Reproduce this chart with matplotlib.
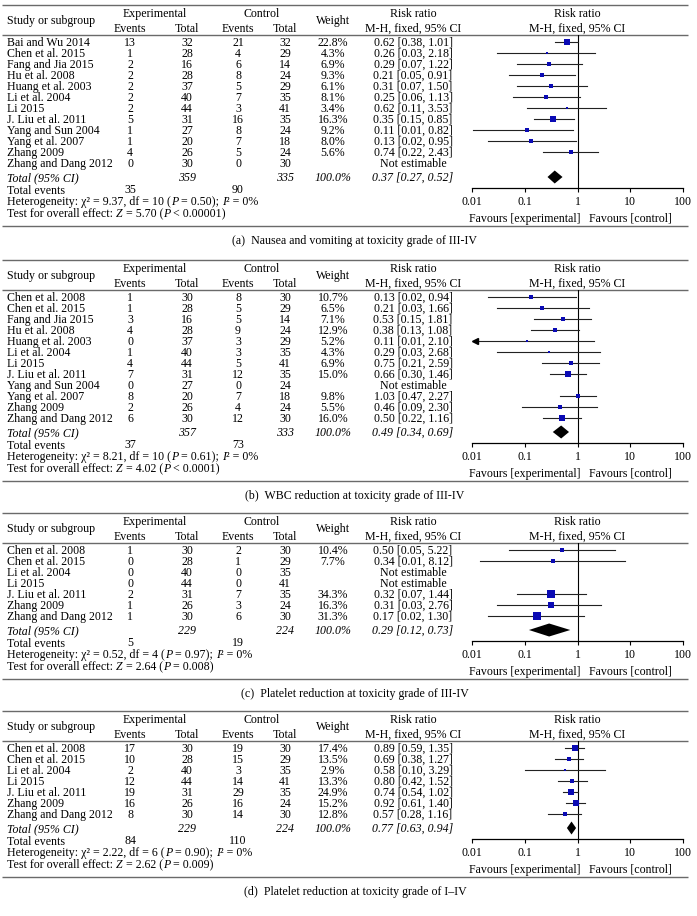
import numpy as np
import matplotlib
matplotlib.use("Agg")
import matplotlib.pyplot as plt

plt.rcParams["font.family"] = ["Liberation Serif", "DejaVu Serif"]

# ------------------------------------------------------------------
# Data
# ------------------------------------------------------------------
# (a) nausea and vomiting, grade III-IV
studies_a = ["Bai and Wu 2014", "Chen et al. 2015", "Fang and Jia 2015", "Hu et al. 2008",
             "Huang et al. 2003", "Li et al. 2004", "Li 2015", "J. Liu et al. 2011",
             "Yang and Sun 2004", "Yang et al. 2007", "Zhang 2009", "Zhang and Dang 2012"]
exp_ev_a = [13, 1, 2, 2, 2, 2, 2, 5, 1, 1, 4, 0]
exp_n_a = [32, 28, 16, 28, 37, 40, 44, 31, 27, 20, 26, 30]
ctl_ev_a = [21, 4, 6, 8, 5, 7, 3, 16, 8, 7, 5, 0]
ctl_n_a = [32, 29, 14, 24, 29, 35, 41, 35, 24, 18, 24, 30]
weight_a = [22.8, 4.3, 6.9, 9.3, 6.1, 8.1, 3.4, 16.3, 9.2, 8.0, 5.6, None]
rr_a = [0.62, 0.26, 0.29, 0.21, 0.31, 0.25, 0.62, 0.35, 0.11, 0.13, 0.74, None]
lo_a = [0.38, 0.03, 0.07, 0.05, 0.07, 0.06, 0.11, 0.15, 0.01, 0.02, 0.22, None]
hi_a = [1.01, 2.18, 1.22, 0.91, 1.50, 1.13, 3.53, 0.85, 0.82, 0.95, 2.43, None]
total_a = (359, 335, 0.37, 0.27, 0.52, 35, 90)
stats_a = ("9.37", "10", "0.50", "0", "5.70", "< 0.00001")

# (b) WBC reduction, grade III-IV
studies_b = ["Chen et al. 2008", "Chen et al. 2015", "Fang and Jia 2015", "Hu et al. 2008",
             "Huang et al. 2003", "Li et al. 2004", "Li 2015", "J. Liu et al. 2011",
             "Yang and Sun 2004", "Yang et al. 2007", "Zhang 2009", "Zhang and Dang 2012"]
exp_ev_b = [1, 1, 3, 4, 0, 1, 4, 7, 0, 8, 2, 6]
exp_n_b = [30, 28, 16, 28, 37, 40, 44, 31, 27, 20, 26, 30]
ctl_ev_b = [8, 5, 5, 9, 3, 3, 5, 12, 0, 7, 4, 12]
ctl_n_b = [30, 29, 14, 24, 29, 35, 41, 35, 24, 18, 24, 30]
weight_b = [10.7, 6.5, 7.1, 12.9, 5.2, 4.3, 6.9, 15.0, None, 9.8, 5.5, 16.0]
rr_b = [0.13, 0.21, 0.53, 0.38, 0.11, 0.29, 0.75, 0.66, None, 1.03, 0.46, 0.50]
lo_b = [0.02, 0.03, 0.15, 0.13, 0.006, 0.03, 0.21, 0.30, None, 0.47, 0.09, 0.22]
hi_b = [0.94, 1.66, 1.81, 1.08, 2.10, 2.68, 2.59, 1.46, None, 2.27, 2.30, 1.16]
total_b = (357, 333, 0.49, 0.34, 0.69, 37, 73)
stats_b = ("8.21", "10", "0.61", "0", "4.02", "< 0.0001")

# (c) platelet reduction, grade III-IV
studies_c = ["Chen et al. 2008", "Chen et al. 2015", "Li et al. 2004", "Li 2015",
             "J. Liu et al. 2011", "Zhang 2009", "Zhang and Dang 2012"]
exp_ev_c = [1, 0, 0, 0, 2, 1, 1]
exp_n_c = [30, 28, 40, 44, 31, 26, 30]
ctl_ev_c = [2, 1, 0, 0, 7, 3, 6]
ctl_n_c = [30, 29, 35, 41, 35, 24, 30]
weight_c = [10.4, 7.7, None, None, 34.3, 16.3, 31.3]
rr_c = [0.50, 0.34, None, None, 0.32, 0.31, 0.17]
lo_c = [0.05, 0.014, None, None, 0.07, 0.03, 0.02]
hi_c = [5.22, 8.12, None, None, 1.44, 2.76, 1.30]
total_c = (229, 224, 0.29, 0.12, 0.73, 5, 19)
stats_c = ("0.52", "4", "0.97", "0", "2.64", "= 0.008")

# (d) platelet reduction, grade I-IV
studies_d = studies_c
exp_ev_d = [17, 10, 2, 12, 19, 16, 8]
exp_n_d = [30, 28, 40, 44, 31, 26, 30]
ctl_ev_d = [19, 15, 3, 14, 29, 16, 14]
ctl_n_d = [30, 29, 35, 41, 35, 24, 30]
weight_d = [17.4, 13.5, 2.9, 13.3, 24.9, 15.2, 12.8]
rr_d = [0.89, 0.69, 0.58, 0.80, 0.74, 0.92, 0.57]
lo_d = [0.59, 0.38, 0.10, 0.42, 0.54, 0.61, 0.28]
hi_d = [1.35, 1.27, 3.29, 1.52, 1.02, 1.40, 1.16]
total_d = (229, 224, 0.77, 0.63, 0.94, 84, 110)
stats_d = ("2.22", "6", "0.90", "0", "2.62", "= 0.009")

captions = ["(a)  Nausea and vomiting at toxicity grade of III-IV",
            "(b)  WBC reduction at toxicity grade of III-IV",
            "(c)  Platelet reduction at toxicity grade of III-IV",
            "(d)  Platelet reduction at toxicity grade of I\u2013IV"]

# ------------------------------------------------------------------
# Layout (pixels, measured from top-left)
# ------------------------------------------------------------------
W, H = 697, 916
FS = 8.6
RULE = "#6a6a6a"
BLUE = "#0a0ab4"
X_STUDY, X_EEV, X_EN, X_CEV, X_CN, X_W, X_RR = 7, 130, 187, 238, 285, 333, 413
X_F0, X_F1 = 472, 683
ROW_H = 11.0

fig = plt.figure(figsize=(W / 100, H / 100), dpi=100)
bg = fig.add_axes([0, 0, 1, 1])
bg.set_xlim(0, W)
bg.set_ylim(H, 0)
bg.axis("off")


def txt(x, y, s, ha="center", style="normal"):
    # y is the visual middle of the capitals; draw on the baseline below it
    return bg.text(x, y + 3.8, s, ha=ha, va="baseline", fontsize=FS, style=style)


def rich(x, y, parts):
    # left-aligned line made of (string, style) pieces, chained end to end
    t = txt(x, y, parts[0][0], ha="left", style=parts[0][1])
    for s, st in parts[1:]:
        t = bg.annotate(s, xy=(1, 0), xycoords=t, ha="left", va="bottom",
                        fontsize=FS, style=st)


def rule(y):
    bg.plot([2, 688], [y, y], color=RULE, lw=1.0, solid_capstyle="butt")


def fmt_ci(r, l, h):
    return f"{r:.2f} [{l:.2f}, {h:.2f}]"


def draw_panel(top, studies, exp_ev, exp_n, ctl_ev, ctl_n, weight, rr, lo, hi,
               total, stats, caption):
    n = len(studies)
    rule(top)
    txt(X_STUDY, top + 15, "Study or subgroup", ha="left")
    txt((X_EEV + X_EN) / 2 - 4, top + 8, "Experimental")
    txt((X_CEV + X_CN) / 2, top + 8, "Control")
    txt(X_W, top + 15, "Weight")
    txt(X_RR, top + 8, "Risk ratio")
    txt((X_F0 + X_F1) / 2, top + 8, "Risk ratio")
    txt(X_EEV, top + 23, "Events")
    txt(X_EN, top + 23, "Total")
    txt(X_CEV, top + 23, "Events")
    txt(X_CN, top + 23, "Total")
    txt(X_RR, top + 23, "M-H, fixed, 95% CI")
    txt((X_F0 + X_F1) / 2, top + 23, "M-H, fixed, 95% CI")
    hdr = top + 30
    rule(hdr)

    rows = [top + 37 + i * ROW_H for i in range(n)]
    y_tot = rows[-1] + 14
    y_axis = y_tot + 11

    for i, y in enumerate(rows):
        txt(X_STUDY, y, studies[i], ha="left")
        txt(X_EEV, y, str(exp_ev[i]))
        txt(X_EN, y, str(exp_n[i]))
        txt(X_CEV, y, str(ctl_ev[i]))
        txt(X_CN, y, str(ctl_n[i]))
        if weight[i] is None:
            txt(X_RR, y, "Not estimable")
        else:
            txt(X_W, y, f"{weight[i]:.1f}%")
            txt(X_RR, y, fmt_ci(rr[i], lo[i], hi[i]))

    tn_e, tn_c, t_rr, t_lo, t_hi, tev_e, tev_c = total
    txt(X_STUDY, y_tot, "Total (95% CI)", ha="left", style="italic")
    txt(X_EN, y_tot, str(tn_e), style="italic")
    txt(X_CN, y_tot, str(tn_c), style="italic")
    txt(X_W, y_tot, "100.0%", style="italic")
    txt(X_RR, y_tot, fmt_ci(t_rr, t_lo, t_hi), style="italic")

    y_het = y_axis + 13
    txt(X_STUDY, y_het - 11, "Total events", ha="left")
    txt(X_EEV, y_het - 12, str(tev_e))
    txt(X_CEV, y_het - 12, str(tev_c))
    chi2, df, p_het, i2, z, p_all = stats
    rich(X_STUDY, y_het, [
        ("Heterogeneity: \u03c7\u00b2 = " + chi2 + ", df = " + df + " (", "normal"),
        ("P", "italic"),
        (" = " + p_het + "); ", "normal"),
        ("I", "italic"),
        ("\u00b2 = " + i2 + "%", "normal"),
    ])
    rich(X_STUDY, y_het + 12, [
        ("Test for overall effect: ", "normal"),
        ("Z", "italic"),
        (" = " + z + " (", "normal"),
        ("P", "italic"),
        (" " + p_all + ")", "normal"),
    ])

    # forest plot
    ax = fig.add_axes([X_F0 / W, 1 - y_axis / H, (X_F1 - X_F0) / W, (y_axis - hdr) / H])
    ax.set_xscale("log")
    ax.set_xlim(0.01, 100)
    ax.set_ylim(y_axis, hdr)
    ax.patch.set_visible(False)
    for s in ["top", "left", "right"]:
        ax.spines[s].set_visible(False)
    ax.spines["bottom"].set_linewidth(0.9)
    ax.set_yticks([])
    ax.set_xticks([0.01, 0.1, 1, 10, 100])
    ax.set_xticklabels(["0.01", "0.1", "1", "10", "100"])
    ax.minorticks_off()
    ax.tick_params(axis="x", length=3, width=0.8, pad=2.5, labelsize=FS)
    ax.axvline(1, color="black", lw=0.8)

    for i, y in enumerate(rows):
        if weight[i] is None:
            continue
        l = max(lo[i], 0.0105)
        ax.plot([l, hi[i]], [y, y], color="#222222", lw=0.8)
        if lo[i] < 0.01:
            ax.plot([0.0115], [y], marker="<", color="black", markersize=4)
        side = 1.3 * np.sqrt(weight[i])
        ax.plot([rr[i]], [y], marker="s", color=BLUE, markersize=side * 0.72,
                markeredgewidth=0)

    dh = 6.5
    ax.fill([t_lo, t_rr, t_hi, t_rr], [y_tot, y_tot - dh, y_tot, y_tot + dh],
            color="black", lw=0)

    y_fav = y_axis + 30
    txt((X_F0 + 577) / 2, y_fav, "Favours [experimental]")
    txt((577 + X_F1) / 2, y_fav, "Favours [control]")
    y_bot = y_axis + 38
    rule(y_bot)
    txt(355, y_bot + 14, caption)


draw_panel(5, studies_a, exp_ev_a, exp_n_a, ctl_ev_a, ctl_n_a, weight_a,
           rr_a, lo_a, hi_a, total_a, stats_a, captions[0])
draw_panel(260, studies_b, exp_ev_b, exp_n_b, ctl_ev_b, ctl_n_b, weight_b,
           rr_b, lo_b, hi_b, total_b, stats_b, captions[1])
draw_panel(513, studies_c, exp_ev_c, exp_n_c, ctl_ev_c, ctl_n_c, weight_c,
           rr_c, lo_c, hi_c, total_c, stats_c, captions[2])
draw_panel(711, studies_d, exp_ev_d, exp_n_d, ctl_ev_d, ctl_n_d, weight_d,
           rr_d, lo_d, hi_d, total_d, stats_d, captions[3])

fig.savefig("out.png", dpi=100)
